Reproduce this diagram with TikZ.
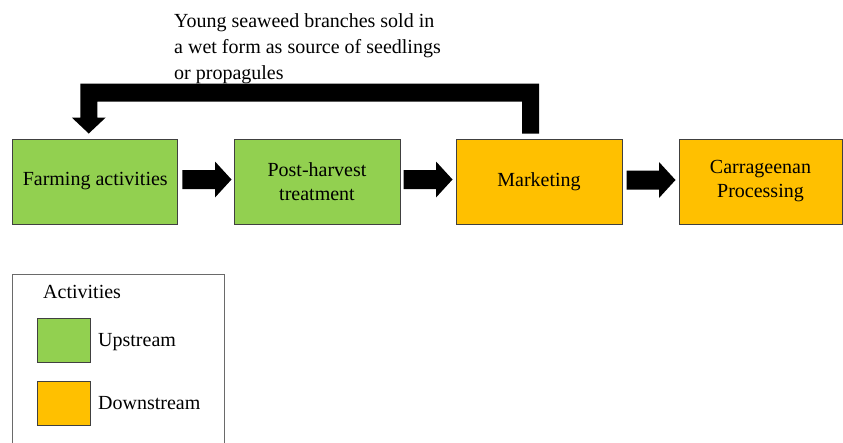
\documentclass[tikz,border=0pt]{standalone}
\usepackage{fontspec}
\setmainfont{Liberation Serif}
\usetikzlibrary{calc}
\definecolor{upgreen}{HTML}{92D050}
\definecolor{downorange}{HTML}{FFC000}
\definecolor{edgegray}{HTML}{404040}
\definecolor{legendgray}{HTML}{6A6A6A}
\tikzset{
  stagebox/.style={draw=edgegray, line width=1pt, minimum width=166pt, minimum height=85pt,
    inner sep=0pt, align=center, font=\fontsize{20}{24}\selectfont},
  upbox/.style={stagebox, fill=upgreen},
  downbox/.style={stagebox, fill=downorange},
  swatch/.style={draw=edgegray, line width=0.8pt, minimum width=53pt, minimum height=44pt, inner sep=0pt},
  legtext/.style={font=\fontsize{20}{24}\selectfont, inner sep=0pt, anchor=west},
  blockfill/.style={fill=black}
}
\newcommand{\blockarr}[2]{%
  \fill[blockfill] let \p1=#1, \p2=#2 in
    (\x1,\y1+9.5pt) -- (\x2-16.5pt,\y1+9.5pt) -- (\x2-16.5pt,\y1+18pt) -- (\x2,\y1)
    -- (\x2-16.5pt,\y1-18pt) -- (\x2-16.5pt,\y1-9.5pt) -- (\x1,\y1-9.5pt) -- cycle;}
\begin{document}
\begin{tikzpicture}[x=1pt,y=-1pt]
\useasboundingbox (0,0) rectangle (843,442);
\clip (0,0) rectangle (843,442);
\fill[white] (0,0) rectangle (843,442);

% stages
\node[upbox]   (farm) at (95.25,181.5) [minimum width=165pt] {Farming activities};
\node[upbox]   (post) at (317,181.5) {Post-harvest\\treatment};
\node[downbox] (mkt)  at (539,181.5) {Marketing};
\node[downbox] (carr) at (760.5,181.5) [minimum width=163pt] {Carrageenan\\Processing};

% block arrows between stages
\blockarr{($(farm.east)+(4,-2)$)}{($(post.west)+(-2,-2)$)}
\blockarr{($(post.east)+(3,-2)$)}{($(mkt.west)+(-3,-2)$)}
\blockarr{($(mkt.east)+(4,-1.5)$)}{($(carr.west)+(-3,-1.5)$)}

% feedback arrow from Marketing to Farming
\coordinate (fbS) at ($(mkt.north)+(-8.5,-5)$);
\coordinate (fbE) at ($(farm.north)+(-6.5,-5)$);
\fill[blockfill] let \p1=(fbS), \p2=(fbE) in
  (\x1-8.5pt,\y1) -- (\x1-8.5pt,\y1+32pt) -- (\x2+8.5pt,\y1+32pt) -- (\x2+8.5pt,\y2+16pt)
  -- (\x2+17pt,\y2+16pt) -- (\x2,\y2) -- (\x2-17pt,\y2+16pt) -- (\x2-8.5pt,\y2+16pt)
  -- (\x2-8.5pt,\y1+50pt) -- (\x1+8.5pt,\y1+50pt) -- (\x1+8.5pt,\y1) -- cycle;

\node[anchor=north west, inner sep=0pt, align=left, font=\fontsize{20}{26}\selectfont] (fbtext) at (174,13)
  {Young seaweed branches sold in\\a wet form as source of seedlings\\or propagules};

% legend
\draw[legendgray, line width=1pt] (12,274) rectangle (224,460);
\node[legtext] (legtitle) at (43,292) {Activities};
\node[swatch, fill=upgreen] (swup) at (63.5,340) {};
\node[legtext] (legup) at (98,342) {Upstream};
\node[swatch, fill=downorange] (swdown) at (63.5,403) {};
\node[legtext] (legdown) at (98,403) {Downstream};
\end{tikzpicture}
\end{document}
